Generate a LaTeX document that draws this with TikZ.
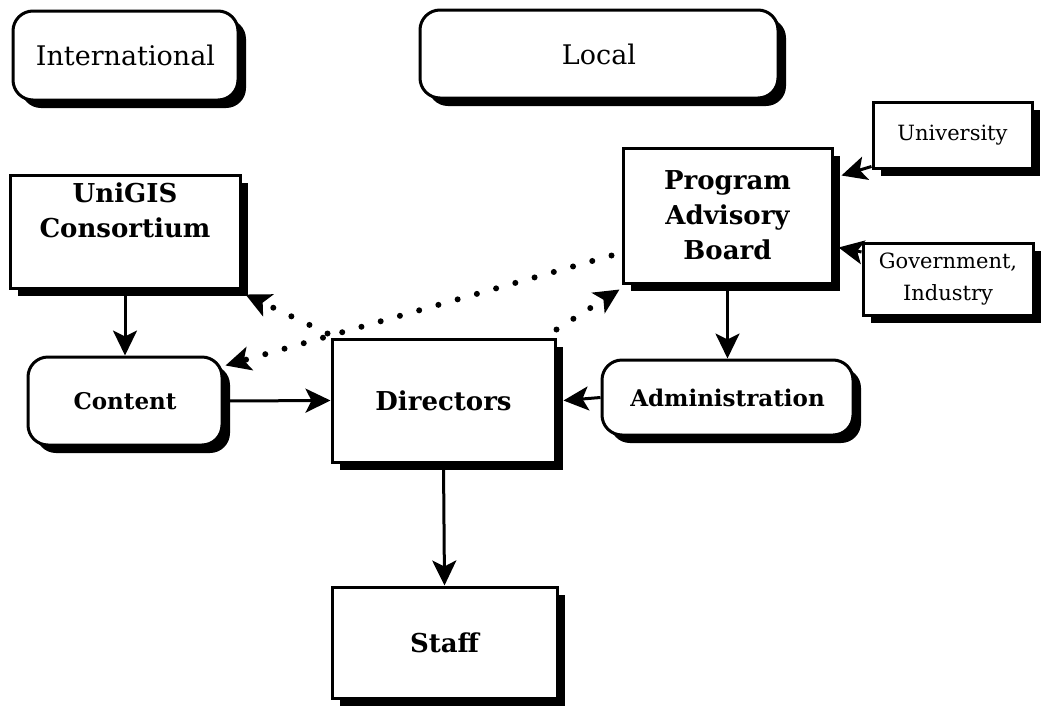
\documentclass[tikz,border=0pt]{standalone}
\usepackage{fontspec}
\setmainfont{DejaVu Serif}
\usetikzlibrary{arrows.meta,shadows}

\begin{document}
\begin{tikzpicture}[x=1pt,y=-1pt]
  \tikzset{box/.style = {shape=rectangle,draw,line width=3pt,fill=white,inner sep=2pt,align=center,
      drop shadow={shadow xshift=8pt,shadow yshift=-8pt,fill=black,opacity=1}}}
  \tikzset{rbox/.style = {box,rounded corners=20pt}}
  \tikzset{big/.style = {font=\fontsize{26}{35}\selectfont\bfseries}}
  \tikzset{mid/.style = {font=\fontsize{23}{30}\selectfont\bfseries}}
  \tikzset{plain/.style = {font=\fontsize{27}{32}\selectfont}}
  \tikzset{small/.style = {font=\fontsize{21}{32}\selectfont}}
  \tikzset{edge/.style = {-{Stealth[length=25pt,width=24pt,inset=6pt]},line width=3pt}}
  \tikzset{dots/.style = {edge,dash pattern=on 0pt off 20pt,line cap=round,line width=6pt}}
  \useasboundingbox (0,0) rectangle (1045,710);

  \node[rbox,plain,minimum width=225pt,minimum height=89pt] (intl) at (125.5,55.5) {International};
  \node[rbox,plain,minimum width=358pt,minimum height=88pt] (local) at (599,54) {Local};
  \node[box,minimum width=230pt,minimum height=113pt,
    label={[big,align=center,anchor=north,inner sep=0pt,yshift=-9pt]north:{UniGIS\\Consortium}}] (unigis) at (125,231.5) {};
  \node[box,big,minimum width=209pt,minimum height=135pt] (pab) at (727.5,215.5) {Program\\Advisory\\Board};
  \node[box,small,minimum width=159pt,minimum height=66pt] (university) at (952.5,135) {University};
  \node[box,small,minimum width=170pt,minimum height=72pt] (gov) at (948,279) {Government,\\Industry};
  \node[rbox,mid,minimum width=194pt,minimum height=88pt] (content) at (125,401) {Content};
  \node[box,big,minimum width=223pt,minimum height=123pt] (directors) at (443.5,400.5) {Directors};
  \node[rbox,mid,minimum width=251pt,minimum height=75pt] (admin) at (727.5,397.5) {Administration};
  \node[box,big,minimum width=225pt,minimum height=111pt] (staff) at (444.5,642.5) {Staff};

  \foreach \from/\to in {unigis/content,pab/admin,directors/staff}
    \draw[edge] (\from.south) -- (\to.north);
  \draw[edge] (content.east) -- (directors.west);
  \draw[edge] (admin.west) -- ([xshift=7pt]directors.east);
  \draw[edge] ([yshift=3pt]university.south west) -- ([xshift=8pt,yshift=40pt]pab.east);
  \draw[edge] ([yshift=27pt]gov.west) -- ([xshift=5pt,yshift=-32pt]pab.east);

  % dotted links
  \draw[dots] ([xshift=-10pt,yshift=-40pt]pab.west) -- ([xshift=2pt,yshift=-10pt]content.north east);
  \draw[dots] ([xshift=-3pt,yshift=4pt]directors.north west) -- ([xshift=4pt,yshift=-5pt]unigis.south east);
  \draw[dots] ([yshift=8pt]directors.north east) -- ([xshift=-2pt,yshift=-5pt]pab.south west);
\end{tikzpicture}
\end{document}
